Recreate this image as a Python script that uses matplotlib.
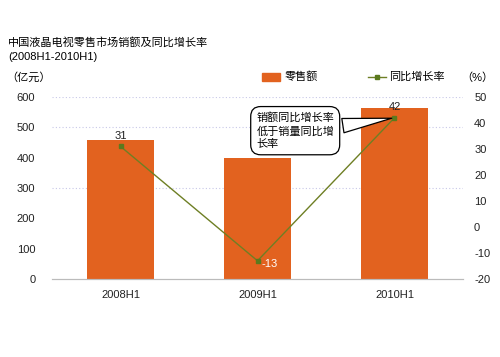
import matplotlib

matplotlib.use("Agg")
import matplotlib.pyplot as plt
from matplotlib.lines import Line2D
from matplotlib.patches import Rectangle

plt.rcParams["font.family"] = ["Liberation Sans", "Noto Sans CJK SC", "DejaVu Sans"]
plt.rcParams["axes.unicode_minus"] = False

periods = ["2008H1", "2009H1", "2010H1"]
sales = [458, 400, 563]          # 零售额 (亿元)
growth = [31, -13, 42]           # 同比增长率 (%)

bar_color = "#E2621F"
line_color = "#6E7F24"
marker_color = "#5B7A1E"

fig = plt.figure(figsize=(5, 3.57), dpi=100)
ax = fig.add_axes([0.104, 0.2185, 0.822, 0.5098])
ax2 = ax.twinx()

x = list(range(len(periods)))
ax.bar(x, sales, width=0.49, color=bar_color, zorder=2)
ax.set_xlim(-0.5, 2.5)
ax.set_ylim(0, 600)
ax.set_yticks(range(0, 601, 100))
ax.set_xticks(x)
ax.set_xticklabels(periods)
for g in [300, 500, 600]:
    ax.axhline(g, color="#C8C8E8", linestyle=(0, (1, 2)), linewidth=0.8, zorder=1)

ax2.plot(x, growth, color=line_color, linewidth=1.0, marker="s",
         markersize=3.5, markerfacecolor=marker_color, markeredgecolor=marker_color, zorder=3)
ax2.set_ylim(-20, 50)
ax2.set_yticks(range(-20, 51, 10))

for a in (ax, ax2):
    for s in ("top", "left", "right"):
        a.spines[s].set_visible(False)
    a.spines["bottom"].set_color("#BBBBBB")
    a.tick_params(length=0, labelsize=8, colors="#222222")
ax.tick_params(axis="x", pad=8)
ax.tick_params(axis="y", pad=12)
ax2.tick_params(axis="y", pad=8)

# value labels
for xi, g in zip(x, growth):
    if g < 0:
        ax2.annotate(f"{g}", (xi, g), xytext=(3, -2), textcoords="offset points",
                     ha="left", va="center", fontsize=8, color="white")
    else:
        ax2.annotate(f"{g}", (xi, g), xytext=(0, 4), textcoords="offset points",
                     ha="center", va="bottom", fontsize=8, color="#222222")

# callout
ax2.annotate("销额同比增长率\n低于销量同比增\n长率", xy=(x[2], growth[2]),
             xytext=(0.497, 0.815), textcoords="axes fraction",
             ha="left", va="center", fontsize=8, linespacing=1.35,
             bbox=dict(boxstyle="round,pad=0.5,rounding_size=0.9", fc="white", ec="black", lw=0.9),
             arrowprops=dict(arrowstyle="wedge,tail_width=1.3,shrink_factor=0.5",
                             fc="white", ec="black", lw=0.9, relpos=(1, 0.6)),
             zorder=5)

# titles and legend
fig.text(0.016, 0.882, "中国液晶电视零售市场销额及同比增长率", fontsize=8, ha="left", va="center")
fig.text(0.016, 0.840, "(2008H1-2010H1)", fontsize=8, ha="left", va="center")
fig.text(0.012, 0.783, "（亿元）", fontsize=8, ha="left", va="center")
fig.text(0.922, 0.783, "（%）", fontsize=8, ha="left", va="center")

fig.patches.append(Rectangle((0.524, 0.774), 0.036, 0.022, transform=fig.transFigure, color=bar_color))
fig.text(0.57, 0.785, "零售额", fontsize=8, ha="left", va="center")
fig.lines.append(Line2D([0.736, 0.754, 0.772], [0.785, 0.785, 0.785], transform=fig.transFigure,
                        color=line_color, linewidth=1.0, marker="s", markersize=3,
                        markevery=[1], markerfacecolor=marker_color,
                        markeredgecolor=marker_color))
fig.text(0.778, 0.785, "同比增长率", fontsize=8, ha="left", va="center")

fig.savefig("out.png", dpi=100)
